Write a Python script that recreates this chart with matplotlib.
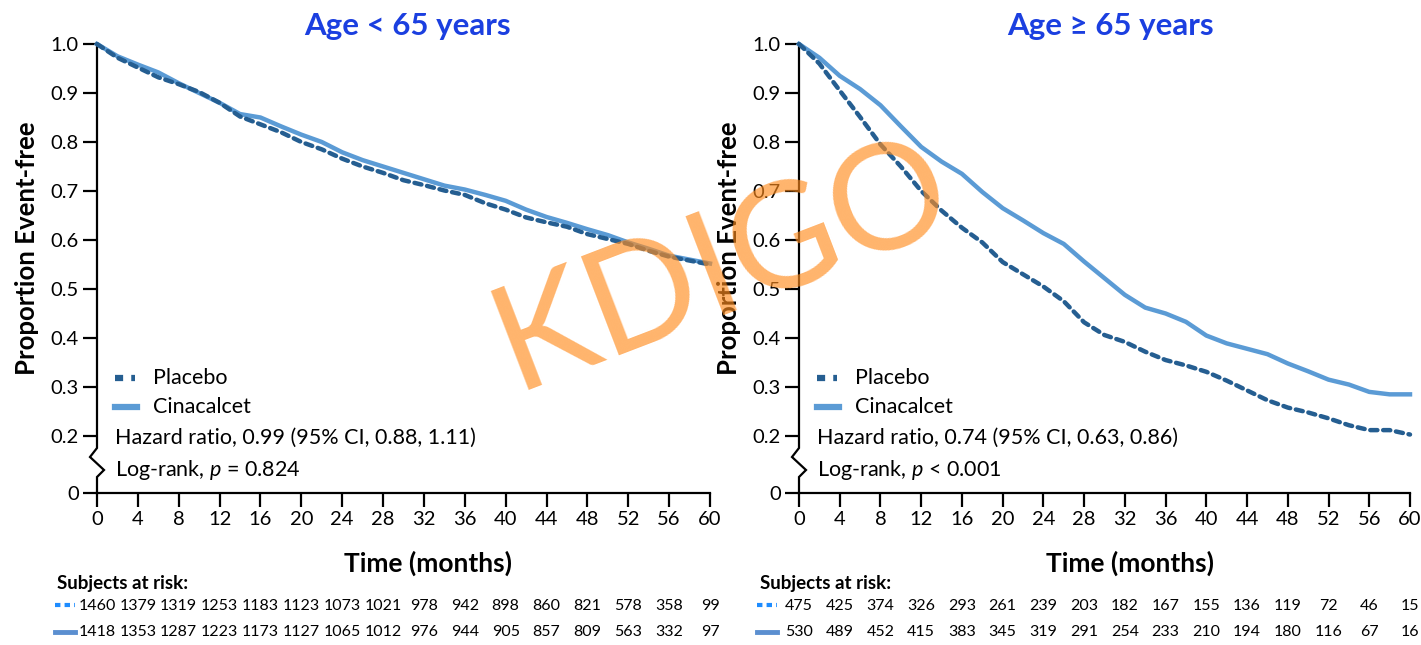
import matplotlib
matplotlib.use('Agg')
import matplotlib.pyplot as plt
from matplotlib.lines import Line2D
import matplotlib.transforms as mtransforms

plt.rcParams['font.family'] = ['Lato', 'DejaVu Sans']
plt.rcParams['mathtext.fontset'] = 'custom'
plt.rcParams['mathtext.rm'] = 'Lato'
plt.rcParams['mathtext.it'] = 'Lato:italic'
plt.rcParams['mathtext.bf'] = 'Lato:bold'

# ---------------- data ----------------
months = [0, 2, 4, 6, 8, 10, 12, 14, 16, 18, 20, 22, 24, 26, 28, 30,
          32, 34, 36, 38, 40, 42, 44, 46, 48, 50, 52, 54, 56, 58, 60]

young_cinacalcet = [1.000, 0.975, 0.958, 0.942, 0.920, 0.900, 0.880, 0.857, 0.850, 0.832,
                    0.815, 0.800, 0.779, 0.763, 0.750, 0.737, 0.724, 0.711, 0.703, 0.692,
                    0.680, 0.662, 0.647, 0.635, 0.622, 0.610, 0.595, 0.582, 0.568, 0.560, 0.552]
young_placebo = [1.000, 0.972, 0.952, 0.932, 0.918, 0.902, 0.880, 0.852, 0.836, 0.820,
                 0.800, 0.785, 0.766, 0.750, 0.737, 0.722, 0.712, 0.701, 0.692, 0.675,
                 0.662, 0.646, 0.636, 0.627, 0.612, 0.602, 0.592, 0.578, 0.566, 0.558, 0.550]
old_cinacalcet = [1.000, 0.972, 0.935, 0.908, 0.875, 0.832, 0.790, 0.760, 0.735, 0.698,
                  0.665, 0.640, 0.614, 0.592, 0.556, 0.522, 0.488, 0.462, 0.450, 0.433,
                  0.405, 0.389, 0.378, 0.367, 0.348, 0.332, 0.315, 0.305, 0.290, 0.285, 0.285]
old_placebo = [1.000, 0.960, 0.905, 0.851, 0.795, 0.750, 0.700, 0.660, 0.625, 0.595,
               0.555, 0.530, 0.505, 0.475, 0.432, 0.406, 0.392, 0.372, 0.355, 0.344,
               0.331, 0.313, 0.293, 0.273, 0.258, 0.248, 0.236, 0.222, 0.212, 0.212, 0.203]

risk_months = [0, 4, 8, 12, 16, 20, 24, 28, 32, 36, 40, 44, 48, 52, 56, 60]
young_risk_placebo = [1460, 1379, 1319, 1253, 1183, 1123, 1073, 1021, 978, 942, 898, 860, 821, 578, 358, 99]
young_risk_cinacalcet = [1418, 1353, 1287, 1223, 1173, 1127, 1065, 1012, 976, 944, 905, 857, 809, 563, 332, 97]
old_risk_placebo = [475, 425, 374, 326, 293, 261, 239, 203, 182, 167, 155, 136, 119, 72, 46, 15]
old_risk_cinacalcet = [530, 489, 452, 415, 383, 345, 319, 291, 254, 233, 210, 194, 180, 116, 67, 16]

titles = ['Age < 65 years', 'Age \u2265 65 years']
hazard_texts = ['Hazard ratio, 0.99 (95% CI, 0.88, 1.11)',
                'Hazard ratio, 0.74 (95% CI, 0.63, 0.86)']
logrank_texts = ['Log-rank, $p$ = 0.824', 'Log-rank, $p$ < 0.001']
yticks = [0.2, 0.3, 0.4, 0.5, 0.6, 0.7, 0.8, 0.9, 1.0]
ytick_labels = ['0.2', '0.3', '0.4', '0.5', '0.6', '0.7', '0.8', '0.9', '1.0']

# ---------------- style ----------------
C_PLA = '#255E91'
C_CIN = '#5B9BD5'
C_TITLE = '#1B3FE0'
C_RISK_PLA = '#1E8CFF'
C_RISK_CIN = '#5B8FD0'

W, H = 1421, 645
fig = plt.figure(figsize=(W / 100, H / 100), dpi=100)

YBOT = 0.2 - 57 / 490.0  # position of the "0" after the axis break


def ydata(py):
    return 0.2 - (py - 436) / 490.0


panels = [
    dict(left=97, width=613, title_x=407, ylab_x=27, xlab_x=428, sub_x=57, mark_x=55,
         cin=young_cinacalcet, pla=young_placebo,
         rp=young_risk_placebo, rc=young_risk_cinacalcet),
    dict(left=799, width=611, title_x=1110, ylab_x=729, xlab_x=1130, sub_x=760, mark_x=757,
         cin=old_cinacalcet, pla=old_placebo,
         rp=old_risk_placebo, rc=old_risk_cinacalcet),
]

LEG_FS = 15.5

for i, p in enumerate(panels):
    ax = fig.add_axes([p['left'] / W, 1 - 493 / H, p['width'] / W, 449 / H])
    ax.set_xlim(0, 60)
    ax.set_ylim(YBOT, 1.0)
    ax.plot(months, p['cin'], color=C_CIN, lw=3.2, clip_on=False, zorder=3,
            solid_joinstyle='round')
    ax.plot(months, p['pla'], color=C_PLA, lw=3.2, linestyle=(0, (1.6, 1.3)),
            dash_capstyle='round', clip_on=False, zorder=4)

    for s in ['top', 'right', 'left']:
        ax.spines[s].set_visible(False)
    ax.spines['bottom'].set_linewidth(1.6)
    ax.spines['bottom'].set_capstyle('projecting')

    ax.set_xticks(risk_months)
    ax.set_xticklabels([str(m) for m in risk_months])
    ax.set_yticks([YBOT] + yticks)
    ax.set_yticklabels(['0'] + ytick_labels)
    ax.tick_params(axis='both', direction='out', length=10, width=1.6,
                   labelsize=14.5, pad=3, color='black')

    # broken left spine
    wpx = p['width']
    trans = mtransforms.blended_transform_factory(ax.transAxes, ax.transData)
    xs = [0, 0, -7 / wpx, 7 / wpx, 0, 0]
    ys = [1.0, ydata(448), ydata(457), ydata(470), ydata(477), YBOT]
    ax.add_line(Line2D(xs, ys, transform=trans, color='black', lw=1.6,
                       clip_on=False, solid_joinstyle='miter', solid_capstyle='projecting'))

    # legend block
    def fx(px):
        return (px - p['left']) / wpx

    def fy(py):
        return (493 - py) / 449.0

    ax.add_line(Line2D([fx(p['left'] + 18), fx(p['left'] + 38)], [fy(378), fy(378)],
                       transform=ax.transAxes, color=C_PLA, lw=4.5,
                       linestyle=(0, (1.3, 1.3)), clip_on=False))
    ax.add_line(Line2D([fx(p['left'] + 18), fx(p['left'] + 40)], [fy(407), fy(407)],
                       transform=ax.transAxes, color=C_CIN, lw=4.5, clip_on=False))
    ax.text(fx(p['left'] + 56), fy(378), 'Placebo', transform=ax.transAxes,
            fontsize=LEG_FS, va='center', ha='left')
    ax.text(fx(p['left'] + 56), fy(407), 'Cinacalcet', transform=ax.transAxes,
            fontsize=LEG_FS, va='center', ha='left')
    ax.text(fx(p['left'] + 18), fy(438), hazard_texts[i], transform=ax.transAxes,
            fontsize=LEG_FS, va='center', ha='left')
    ax.text(fx(p['left'] + 18), fy(470), logrank_texts[i], transform=ax.transAxes,
            fontsize=LEG_FS, va='center', ha='left')

    # titles and labels
    fig.text(p['title_x'] / W, 1 - 26 / H, titles[i], color=C_TITLE, fontsize=22.5,
             fontweight='bold', ha='center', va='center')
    fig.text(p['ylab_x'] / W, 1 - 248 / H, 'Proportion Event-free', rotation=90,
             fontsize=18.5, fontweight='bold', ha='center', va='center')
    fig.text(p['xlab_x'] / W, 1 - 563 / H, 'Time (months)', fontsize=19,
             fontweight='bold', ha='center', va='center')

    # risk table
    fig.text(p['sub_x'] / W, 1 - 583 / H, 'Subjects at risk:', fontsize=13.5,
             fontweight='bold', ha='left', va='center')
    rtrans = mtransforms.blended_transform_factory(ax.transData, fig.transFigure)
    for m, v in zip(risk_months, p['rp']):
        fig.text(m, 1 - 606 / H, str(v), transform=rtrans, fontsize=11.5,
                 ha='center', va='center')
    for m, v in zip(risk_months, p['rc']):
        fig.text(m, 1 - 632 / H, str(v), transform=rtrans, fontsize=11.5,
                 ha='center', va='center')
    mx = p['mark_x']
    fig.add_artist(Line2D([mx / W, (mx + 20) / W], [1 - 605 / H, 1 - 605 / H],
                          transform=fig.transFigure, color=C_RISK_PLA, lw=3,
                          linestyle=(0, (1.3, 1.0))))
    fig.add_artist(Line2D([mx / W, (mx + 20) / W], [1 - 632 / H, 1 - 632 / H],
                          transform=fig.transFigure, color=C_RISK_CIN, lw=3.5))

# watermark
fig.text(722 / W, 1 - 266 / H, 'KDIGO', fontsize=106, color='#FF8C1E', alpha=0.65,
         rotation=21, ha='center', va='center', zorder=20)

fig.savefig('out.png', dpi=100)
